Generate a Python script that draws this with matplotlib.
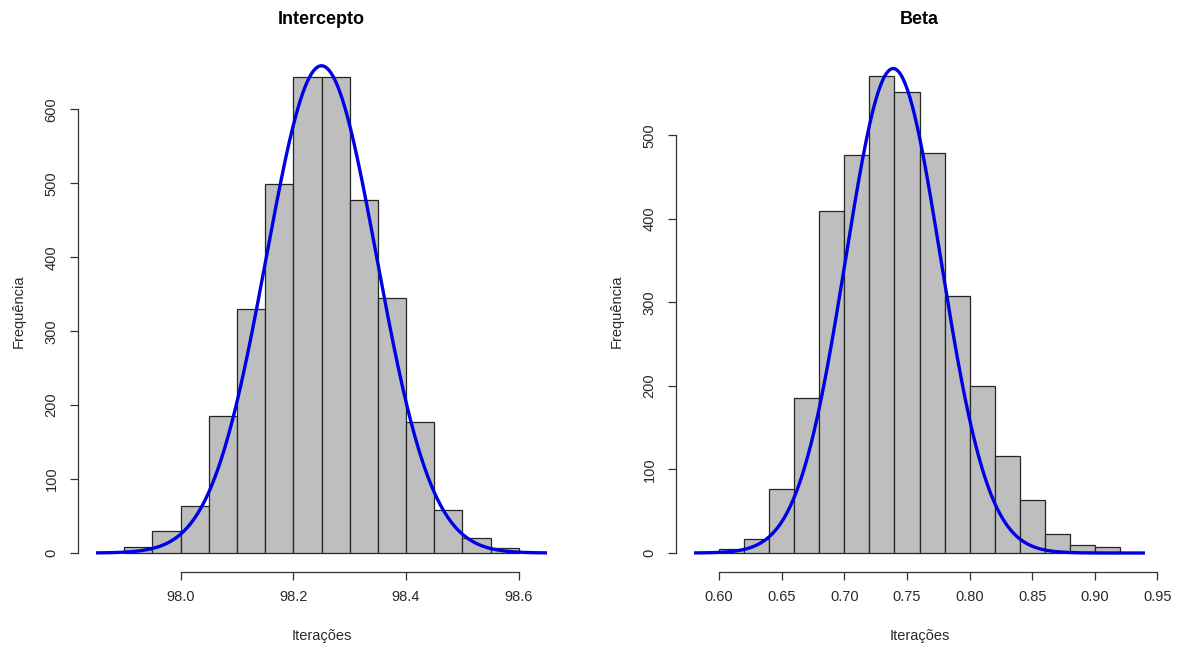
import numpy as np
import matplotlib.pyplot as plt

plt.rcParams['font.family'] = ['Liberation Sans', 'DejaVu Sans']

# histogram of the intercept chain
breaks_int = [97.90, 97.95, 98.00, 98.05, 98.10, 98.15, 98.20, 98.25,
              98.30, 98.35, 98.40, 98.45, 98.50, 98.55, 98.60]
counts_int = [8, 30, 64, 185, 330, 499, 644, 644, 478, 345, 177, 58, 20, 7]
xticks_int = [98.0, 98.2, 98.4, 98.6]
yticks_int = [0, 100, 200, 300, 400, 500, 600]

# histogram of the beta chain
breaks_beta = [0.60, 0.62, 0.64, 0.66, 0.68, 0.70, 0.72, 0.74, 0.76,
               0.78, 0.80, 0.82, 0.84, 0.86, 0.88, 0.90, 0.92]
counts_beta = [5, 17, 77, 186, 409, 476, 571, 552, 479, 308, 200, 116, 64, 23, 10, 7]
xticks_beta = [0.60, 0.65, 0.70, 0.75, 0.80, 0.85, 0.90, 0.95]
yticks_beta = [0, 100, 200, 300, 400, 500]

# normal curves laid over the histograms (mean, sd, height at the mode, range)
curve_int = dict(mu=98.25, sd=0.098, peak=659, lo=97.85, hi=98.65)
curve_beta = dict(mu=0.739, sd=0.038, peak=580, lo=0.58, hi=0.94)

W, H = 1178, 648
fig = plt.figure(figsize=(W / 100, H / 100), dpi=100)

panels = [
    ("Intercepto", breaks_int, counts_int, xticks_int, yticks_int, curve_int,
     78, (97.818, 98.682), (-26.1, 679), "%.1f"),
    ("Beta", breaks_beta, counts_beta, xticks_beta, yticks_beta, curve_beta,
     676, (0.5656, 0.9544), (-23.1, 601), "%.2f"),
]

for title, breaks, counts, xt, yt, cv, left_px, xlim, ylim, fmt in panels:
    ax = fig.add_axes([left_px / W, (H - 572.3) / H, 487 / W, 521.3 / H])
    edges = np.array(breaks)
    ax.bar(edges[:-1], counts, width=np.diff(edges), align='edge',
           color='#bebebe', edgecolor='#262626', linewidth=0.9, zorder=2)

    xs = np.linspace(cv['lo'], cv['hi'], 400)
    ys = cv['peak'] * np.exp(-0.5 * ((xs - cv['mu']) / cv['sd']) ** 2)
    ax.plot(xs, ys, color='#0000e6', linewidth=2.4, zorder=3,
            solid_capstyle='butt')

    ax.set_xlim(*xlim)
    ax.set_ylim(*ylim)
    for s in ('top', 'right'):
        ax.spines[s].set_visible(False)
    ax.spines['bottom'].set_bounds(xt[0], xt[-1])
    ax.spines['left'].set_bounds(yt[0], yt[-1])
    for s in ('bottom', 'left'):
        ax.spines[s].set_color('#333333')
        ax.spines[s].set_linewidth(0.9)

    ax.set_xticks(xt)
    ax.set_xticklabels([fmt % v for v in xt])
    ax.set_yticks(yt)
    ax.set_yticklabels([str(v) for v in yt], rotation=90, va='center')
    ax.tick_params(axis='both', direction='out', length=6, width=0.9,
                   color='#333333', labelsize=10.5, labelcolor='#2a2a2a')
    ax.tick_params(axis='x', pad=7)
    ax.tick_params(axis='y', pad=8)

    ax.text(0.5, 1.06, title, transform=ax.transAxes, ha='center',
            va='center', fontsize=13, fontweight='bold')
    ax.text(0.5, -0.122, "Iterações", transform=ax.transAxes, ha='center',
            va='center', fontsize=10.5, color='#2a2a2a')
    ax.text(-0.122, 0.5, "Frequência", transform=ax.transAxes, ha='center',
            va='center', rotation=90, fontsize=10.5, color='#2a2a2a')

fig.savefig("out.png", dpi=100)
